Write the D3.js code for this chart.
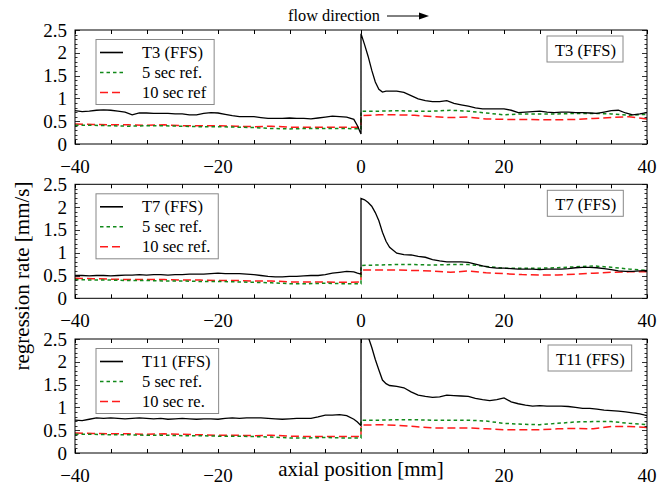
<!DOCTYPE html>
<html><head><meta charset="utf-8">
<script src="https://cdn.jsdelivr.net/npm/d3@7"></script>
<style>
body{margin:0;background:#fff}
svg{display:block}
text{font-family:"Liberation Serif","Times New Roman",serif;fill:#000}
</style>
</head><body>
<svg id="c" width="670" height="487"></svg>
<script>
// ---------- data ----------
const ffsX = [-40,-39,-38,-37,-36,-35,-34,-33,-32,-31,-30,-29,-28,-27,-26,-25,-24,-23,-22,-21,
  -20,-19,-18,-17,-16,-15,-14,-13,-12,-11,-10,-9,-8,-7,-6,-5,-4,-3,-2,-1,-0.5,0,
  0,0.5,1,1.5,2,2.5,3,3.5,
  4,5,6,7,8,9,10,11,12,13,14,15,16,17,18,19,20,21,22,23,24,25,26,27,28,29,30,31,32,33,34,35,36,37,38,39,40];
const refX = [-40,-37.5,-35,-32.5,-30,-27.5,-25,-22.5,-20,-17.5,-15,-12.5,-10,-7.5,-5,-2.5,0,
  0,2.5,5,7.5,10,12.5,15,17.5,20,22.5,25,27.5,30,32.5,35,37.5,40];

const t3Rate = [0.73,0.71,0.72,0.74,0.75,0.74,0.72,0.70,0.64,0.68,0.68,0.67,0.67,0.67,0.66,0.66,0.64,0.64,0.67,0.69,
  0.68,0.65,0.62,0.60,0.60,0.60,0.58,0.56,0.56,0.56,0.57,0.56,0.56,0.55,0.57,0.59,0.61,0.60,0.59,0.54,0.40,0.22,
  2.42,2.18,1.92,1.62,1.36,1.20,1.14,1.16,
  1.16,1.16,1.13,1.06,0.99,0.95,0.93,0.93,0.95,0.89,0.86,0.83,0.79,0.77,0.77,0.77,0.77,0.74,0.69,0.70,0.71,0.72,0.70,0.69,0.70,0.70,0.69,0.69,0.68,0.67,0.70,0.73,0.74,0.68,0.64,0.66,0.69];
const t3Ref5 = [0.41,0.41,0.40,0.39,0.40,0.40,0.39,0.38,0.38,0.37,0.36,0.34,0.33,0.34,0.34,0.34,0.33,
  0.72,0.72,0.73,0.72,0.72,0.74,0.72,0.68,0.64,0.66,0.66,0.66,0.67,0.67,0.66,0.63,0.65];
const t3Ref10 = [0.44,0.43,0.42,0.42,0.41,0.42,0.40,0.40,0.40,0.39,0.38,0.39,0.37,0.37,0.37,0.37,0.37,
  0.62,0.64,0.64,0.63,0.60,0.58,0.59,0.55,0.54,0.54,0.53,0.53,0.54,0.56,0.58,0.60,0.55];

const t7Rate = [0.50,0.50,0.49,0.50,0.50,0.49,0.50,0.51,0.51,0.52,0.51,0.52,0.52,0.51,0.52,0.52,0.53,0.53,0.53,0.54,
  0.55,0.54,0.54,0.54,0.53,0.52,0.50,0.48,0.47,0.47,0.48,0.48,0.49,0.50,0.50,0.52,0.55,0.57,0.59,0.58,0.55,0.53,
  2.19,2.16,2.10,2.02,1.88,1.70,1.45,1.25,
  1.12,0.99,0.96,0.95,0.92,0.90,0.85,0.82,0.80,0.80,0.80,0.79,0.75,0.71,0.68,0.66,0.66,0.65,0.64,0.64,0.64,0.63,0.64,0.64,0.64,0.65,0.67,0.68,0.68,0.67,0.65,0.63,0.60,0.59,0.59,0.60,0.61];
const t7Ref5 = [0.41,0.40,0.40,0.39,0.39,0.38,0.38,0.37,0.37,0.36,0.35,0.34,0.32,0.32,0.33,0.32,0.32,
  0.72,0.73,0.74,0.74,0.73,0.74,0.74,0.70,0.66,0.66,0.66,0.67,0.69,0.71,0.68,0.64,0.61];
const t7Ref10 = [0.44,0.43,0.42,0.41,0.41,0.41,0.40,0.40,0.39,0.39,0.38,0.38,0.36,0.36,0.36,0.35,0.36,
  0.62,0.62,0.62,0.61,0.60,0.57,0.60,0.56,0.54,0.52,0.51,0.51,0.53,0.55,0.57,0.58,0.58];

const t11Rate = [0.72,0.71,0.74,0.77,0.76,0.77,0.76,0.75,0.76,0.77,0.76,0.75,0.76,0.74,0.75,0.76,0.75,0.74,0.75,0.75,
  0.74,0.76,0.77,0.76,0.77,0.77,0.77,0.76,0.75,0.74,0.75,0.76,0.76,0.76,0.79,0.83,0.83,0.84,0.82,0.74,0.68,0.60,
  2.75,2.70,2.55,2.32,2.05,1.82,1.60,1.52,
  1.48,1.46,1.43,1.34,1.27,1.24,1.22,1.23,1.27,1.26,1.25,1.24,1.20,1.17,1.15,1.17,1.21,1.12,1.08,1.05,1.03,1.04,1.03,1.03,1.03,1.02,1.00,0.98,0.98,0.96,0.94,0.93,0.92,0.90,0.88,0.86,0.82];
const t11Ref5 = [0.41,0.41,0.40,0.40,0.39,0.39,0.38,0.38,0.37,0.37,0.36,0.35,0.33,0.33,0.34,0.33,0.33,
  0.72,0.72,0.73,0.73,0.72,0.72,0.72,0.70,0.65,0.63,0.62,0.65,0.68,0.69,0.69,0.65,0.62];
const t11Ref10 = [0.44,0.43,0.42,0.42,0.41,0.42,0.41,0.40,0.39,0.39,0.38,0.39,0.37,0.36,0.36,0.36,0.36,
  0.61,0.62,0.61,0.58,0.55,0.55,0.55,0.53,0.51,0.51,0.51,0.53,0.54,0.53,0.58,0.58,0.56];

const xTickLabelsUpper = [-40,-20,0,20,40];
const xTickLabelsBottom = [-40,-20,20,40]; // the 0 label is hidden behind the axis title in the original
const yTickLabels = [0,0.5,1,1.5,2,2.5];
const panelNames = ["T3 (FFS)","T7 (FFS)","T11 (FFS)"];
const legendLabels = [
  ["T3 (FFS)","5 sec ref.","10 sec ref"],
  ["T7 (FFS)","5 sec ref.","10 sec ref."],
  ["T11 (FFS)","5 sec ref.","10 sec re."]
];
const ffsSeries = [t3Rate,t7Rate,t11Rate];
const ref5Series = [t3Ref5,t7Ref5,t11Ref5];
const ref10Series = [t3Ref10,t7Ref10,t11Ref10];

// ---------- layout ----------
const svg = d3.select("#c");
const L = 75, R = 647, H = 114;
const tops = [30, 184.3, 339];
const boxRight = [623, 623.3, 631.7];
const green = "#11891a", red = "#ff1a1a";
const x = d3.scaleLinear().domain([-40,40]).range([L,R]);
const minus = s => String(s).replace("-", "\u2212");

tops.forEach((top,i) => {
  const y = d3.scaleLinear().domain([0,2.5]).range([top+H, top]);
  const g = svg.append("g");
  const cid = "clip"+i;
  svg.append("clipPath").attr("id",cid).append("rect").attr("x",L).attr("y",top).attr("width",R-L).attr("height",H);

  // lines
  const plot = g.append("g").attr("clip-path",`url(#${cid})`);
  const line = d3.line().x(d=>x(d[0])).y(d=>y(d[1]));
  plot.append("path").datum(refX.map((v,k)=>[v,ref10Series[i][k]]))
    .attr("d",line).attr("fill","none").attr("stroke",red).attr("stroke-width",1.5).attr("stroke-dasharray","8,4");
  plot.append("path").datum(refX.map((v,k)=>[v,ref5Series[i][k]]))
    .attr("d",line).attr("fill","none").attr("stroke",green).attr("stroke-width",1.5).attr("stroke-dasharray","3.5,3");
  plot.append("path").datum(ffsX.map((v,k)=>[v,ffsSeries[i][k]]))
    .attr("d",line).attr("fill","none").attr("stroke","#000").attr("stroke-width",1.3);

  // frame
  g.append("rect").attr("x",L).attr("y",top).attr("width",R-L).attr("height",H)
    .attr("fill","none").attr("stroke","#000").attr("stroke-width",1);

  // x ticks (every 5, inward, top and bottom)
  x.ticks(16).forEach(t => {
    const px = Math.round(x(t))+0.5;
    g.append("line").attr("x1",px).attr("x2",px).attr("y1",top+H).attr("y2",top+H-4).attr("stroke","#000");
    g.append("line").attr("x1",px).attr("x2",px).attr("y1",top).attr("y2",top+4).attr("stroke","#000");
  });
  // y ticks (every 0.1 minor, 0.5 major)
  d3.range(0,26).forEach(k => {
    const v = k/10, py = Math.round(y(v))+0.5;
    const len = (k%5===0) ? 5 : 2.5;
    g.append("line").attr("x1",L).attr("x2",L+len).attr("y1",py).attr("y2",py).attr("stroke","#000").attr("stroke-width",0.8);
    g.append("line").attr("x1",R).attr("x2",R-len).attr("y1",py).attr("y2",py).attr("stroke","#000").attr("stroke-width",0.8);
  });
  // tick labels
  (i === 2 ? xTickLabelsBottom : xTickLabelsUpper).forEach(t => {
    g.append("text").attr("x",x(t)).attr("y",top+H+28.5).attr("text-anchor","middle")
      .attr("font-size",19).text(minus(t));
  });
  yTickLabels.forEach(t => {
    g.append("text").attr("x",L-8).attr("y",y(t)+6.5).attr("text-anchor","end")
      .attr("font-size",19).text(t);
  });

  // legend
  const lg = g.append("g");
  const lbox = lg.append("rect").attr("x",96).attr("y",top+9.5).attr("height",65)
    .attr("fill","#fff").attr("stroke","#888").attr("stroke-width",1);
  const styles = [{c:"#000",d:null,w:1.6},{c:green,d:"3.5,3",w:1.5},{c:red,d:"8,4",w:1.5}];
  let maxW = 0;
  legendLabels[i].forEach((lab,k) => {
    const ly = top + 22.5 + k*20;
    const ln = lg.append("line").attr("x1",100).attr("x2",123).attr("y1",ly).attr("y2",ly)
      .attr("stroke",styles[k].c).attr("stroke-width",styles[k].w);
    if (styles[k].d) ln.attr("stroke-dasharray",styles[k].d);
    const tx = lg.append("text").attr("x",142).attr("y",ly+5).attr("font-size",16.5).text(lab);
    maxW = Math.max(maxW, tx.node().getComputedTextLength());
  });
  lbox.attr("width", 142 + maxW + 8 - 96);

  // panel label box
  const pg = g.append("g");
  const pt = pg.append("text").attr("x",boxRight[i]-7).attr("y",top+25.5).attr("text-anchor","end")
    .attr("font-size",16.5).text(panelNames[i]);
  const tw = pt.node().getComputedTextLength();
  pg.insert("rect","text").attr("x",boxRight[i]-tw-15).attr("y",top+6).attr("width",tw+15).attr("height",26)
    .attr("fill","#fff").attr("stroke","#888").attr("stroke-width",1);
});

// flow direction
svg.append("text").attr("x",334).attr("y",21).attr("text-anchor","middle").attr("font-size",16.3).text("flow direction");
svg.append("line").attr("x1",387).attr("x2",421).attr("y1",16).attr("y2",16).attr("stroke","#000").attr("stroke-width",1);
svg.append("path").attr("d","M419,12.5 L429,16 L419,19.5 Z").attr("fill","#000");

// axis titles
svg.append("text").attr("x",361).attr("y",476).attr("text-anchor","middle").attr("font-size",21).text("axial position [mm]");
svg.append("text").attr("transform","translate(29,276) rotate(-90)").attr("text-anchor","middle")
  .attr("font-size",21).text("regression rate [mm/s]");
</script>
</body></html>
